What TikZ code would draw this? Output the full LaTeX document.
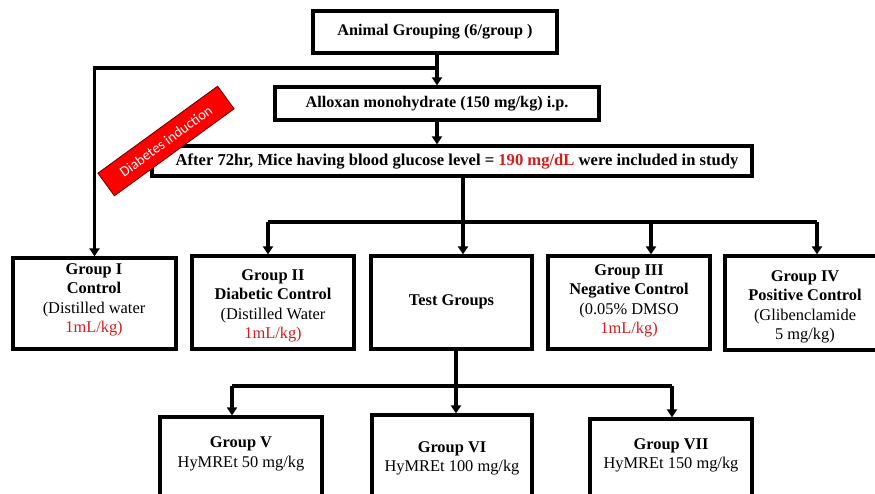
\documentclass[tikz,border=0pt]{standalone}
\usepackage{fontspec}
\setmainfont{Liberation Serif}
\newfontfamily\bannerfont{Carlito}
\usetikzlibrary{arrows.meta}
\definecolor{txtred}{RGB}{210,30,30}
\definecolor{bannerred}{RGB}{255,0,0}
\begin{document}
\begin{tikzpicture}[x=1pt,y=-1pt,
  box/.style={draw=black,line width=3.2pt,inner sep=0pt,fill=white},
  lbl/.style={align=center,inner sep=0pt,font=\fontsize{16.4}{19.5}\selectfont},
  conn/.style={line width=3.2pt},
  arr/.style={line width=3.2pt,-{Triangle[width=10pt,length=8pt]}}]
\useasboundingbox (0,0) rectangle (875,494);
% top boxes
\node[box,minimum width=244pt,minimum height=42pt,font=\fontsize{16.2}{18}\selectfont\bfseries] (b1) at (435,32) {Animal Grouping (6/group )};
\node[box,minimum width=324pt,minimum height=33pt,font=\fontsize{16.2}{18}\selectfont\bfseries] (b2) at (437,103.5) {Alloxan monohydrate (150 mg/kg) i.p.};
\node[box,minimum width=600pt,minimum height=30pt] (b3) at (452,161) {};
\node[inner sep=0pt,font=\fontsize{16.6}{18}\selectfont\bfseries] (b3t) at (457,161) {After 72hr, Mice having blood glucose level = \textcolor{txtred}{190 mg/dL} were included in study};
% row boxes
\node[box,minimum width=163pt,minimum height=91pt] (g1) at (94.5,303.5) {};
\node[box,minimum width=162pt,minimum height=93pt] (g2) at (273,302.5) {};
\node[box,minimum width=161pt,minimum height=93pt] (tg) at (451.5,302.5) {};
\node[box,minimum width=162pt,minimum height=93pt] (g3) at (629,302.5) {};
\node[box,minimum width=170pt,minimum height=94pt] (g4) at (810,303) {};
\node[lbl] (g1t) at (94,300) {\textbf{Group I}\\\textbf{Control}\\(Distilled water\\\textcolor{txtred}{1mL/kg)}};
\node[lbl] (g2t) at (273,306) {\textbf{Group II}\\\textbf{Diabetic Control}\\(Distilled Water\\\textcolor{txtred}{1mL/kg)}};
\node[lbl] (tgt) at (451.5,302) {\textbf{Test Groups}};
\node[lbl] (g3t) at (629,301) {\textbf{Group III}\\\textbf{Negative Control}\\(0.05\% DMSO\\\textcolor{txtred}{1mL/kg)}};
\node[lbl] (g4t) at (805,307) {\textbf{Group IV}\\\textbf{Positive Control}\\(Glibenclamide\\5 mg/kg)};
% bottom boxes
\node[box,minimum width=162pt,minimum height=104pt] (g5) at (241,469) {};
\node[box,minimum width=160pt,minimum height=106pt] (g6) at (452,468) {};
\node[box,minimum width=162pt,minimum height=102pt] (g7) at (671,470) {};
\node[lbl] (g5t) at (241,454) {\textbf{Group V}\\HyMREt 50 mg/kg};
\node[lbl] (g6t) at (452,458.5) {\textbf{Group VI}\\HyMREt 100 mg/kg};
\node[lbl] (g7t) at (671,455.5) {\textbf{Group VII}\\HyMREt 150 mg/kg};
% connectors top
\coordinate (j1) at (437,68);
\draw[arr] (b2.north |- b1.south) -- (b2.north);
\draw[arr] (j1) -| (g1.north);
\draw[arr] (b2.south) -- (b2.south |- b3.north);
% connectors to row
\coordinate (j2) at (463,222);
\coordinate (a2) at (268,222);
\coordinate (a4) at (817,222);
\coordinate (a3) at (651,222);
\draw[conn] (b3.south -| j2) -- (j2);
\draw[conn] (a2) -- (a4);
\draw[arr] (a2) -- (a2 |- g2.north);
\draw[arr] (j2) -- (j2 |- tg.north);
\draw[arr] (a3) -- (a3 |- g3.north);
\draw[arr] (a4) -- (a4 |- g4.north);
% connectors to bottom
\coordinate (j3) at (456,386);
\coordinate (a5) at (232,386);
\coordinate (a7) at (672,386);
\draw[conn] (tg.south -| j3) -- (j3);
\draw[conn] (a5) -- (a7);
\draw[arr] (a5) -- (a5 |- g5.north);
\draw[arr] (j3) -- (j3 |- g6.north);
\draw[arr] (a7) -- (a7 |- g7.north);
% banner
\node[rotate=36,fill=bannerred,draw=black!60!red,line width=0.8pt,minimum width=148pt,minimum height=28pt,inner sep=0pt,text=white,font=\bannerfont\fontsize{14.5}{16}\selectfont] (banner) at (166,141) {Diabetes induction};
\end{tikzpicture}
\end{document}
